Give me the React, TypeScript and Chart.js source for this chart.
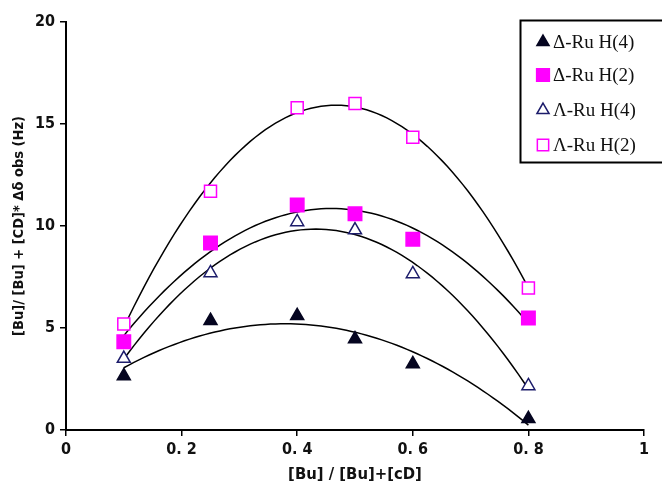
import { useEffect, useRef } from 'react';
import { Chart, registerables } from 'chart.js';
import { drawPoint } from 'chart.js/helpers';

Chart.register(...registerables);

// Mole-fraction values and measured shifts for each series
const ratios = [0.1, 0.25, 0.4, 0.5, 0.6, 0.8];
const deltaH4 = [2.65, 5.36, 5.6, 4.46, 3.24, 0.55];
const deltaH2 = [4.33, 9.17, 11.03, 10.6, 9.35, 5.49];
const lambdaH4 = [3.5, 7.7, 10.2, 9.8, 7.65, 2.16];
const lambdaH2 = [5.2, 11.7, 15.8, 16.0, 14.35, 6.96];

const seriesLabels = ['Δ-Ru H(4)', 'Δ-Ru H(2)', 'Λ-Ru H(4)', 'Λ-Ru H(2)'];
const xTickLabels = ['0', '0. 2', '0. 4', '0. 6', '0. 8', '1'];
const yTickLabels = ['0', '5', '10', '15', '20'];

const xTitle = '[Bu] / [Bu]+[cD]';
const yTitle = '[Bu]/ [Bu] + [CD]* Δδ obs (Hz)';

const NAVY = '#1c1c6b';
const MAGENTA = '#ff00ff';

type Style = { pointStyle: string; fill: string; stroke: string; radius: number };
const styles: Style[] = [
  { pointStyle: 'triangle', fill: '#050520', stroke: '#050520', radius: 7.5 },
  { pointStyle: 'rect', fill: MAGENTA, stroke: MAGENTA, radius: 9.5 },
  { pointStyle: 'triangle', fill: '#ffffff', stroke: NAVY, radius: 7.5 },
  { pointStyle: 'rect', fill: '#ffffff', stroke: MAGENTA, radius: 8.5 },
];

// Second-order least-squares trendline through a series
function quadFit(xs: number[], ys: number[]) {
  const s = [0, 0, 0, 0, 0];
  const t = [0, 0, 0];
  xs.forEach((x, i) => {
    for (let k = 0; k < 5; k++) s[k] += Math.pow(x, k);
    for (let k = 0; k < 3; k++) t[k] += Math.pow(x, k) * ys[i];
  });
  const m = [
    [s[0], s[1], s[2], t[0]],
    [s[1], s[2], s[3], t[1]],
    [s[2], s[3], s[4], t[2]],
  ];
  for (let c = 0; c < 3; c++) {
    for (let r = c + 1; r < 3; r++) {
      const f = m[r][c] / m[c][c];
      for (let k = c; k < 4; k++) m[r][k] -= f * m[c][k];
    }
  }
  const b = [0, 0, 0];
  for (let r = 2; r >= 0; r--) {
    let v = m[r][3];
    for (let k = r + 1; k < 3; k++) v -= m[r][k] * b[k];
    b[r] = v / m[r][r];
  }
  return (x: number) => b[0] + b[1] * x + b[2] * x * x;
}

function trend(ys: number[]) {
  const f = quadFit(ratios, ys);
  const lo = ratios[0];
  const hi = ratios[ratios.length - 1];
  const n = 80;
  const pts = [];
  for (let i = 0; i <= n; i++) {
    const x = lo + ((hi - lo) * i) / n;
    pts.push({ x, y: f(x) });
  }
  return pts;
}

const seriesValues = [deltaH4, deltaH2, lambdaH4, lambdaH2];

const boxLegend = {
  id: 'boxLegend',
  afterDraw(chart: any) {
    const ctx: CanvasRenderingContext2D = chart.ctx;
    const left = 520;
    const top = 20;
    ctx.save();
    ctx.fillStyle = '#ffffff';
    ctx.fillRect(left, top, 160, 143);
    ctx.strokeStyle = '#000000';
    ctx.lineWidth = 2;
    ctx.strokeRect(left + 0.5, top + 0.5, 170, 142);
    const rows = [42, 75, 110, 145];
    seriesLabels.forEach((label, i) => {
      const st = styles[i];
      ctx.fillStyle = st.fill;
      ctx.strokeStyle = st.stroke;
      ctx.lineWidth = 1.5;
      drawPoint(ctx, { pointStyle: st.pointStyle as any, rotation: 0, radius: st.radius - 0.5, borderWidth: 1.5 }, 543, rows[i]);
      ctx.fillStyle = '#111111';
      ctx.font = '19px "Liberation Serif", serif';
      ctx.textBaseline = 'middle';
      ctx.textAlign = 'left';
      ctx.fillText(label, 553, rows[i] + 1);
    });
    ctx.restore();
  },
};

export default function App() {
  const ref = useRef<HTMLCanvasElement | null>(null);

  useEffect(() => {
    document.body.style.margin = '0';
    const canvas = ref.current;
    if (!canvas) return;

    const lineSets = seriesValues.map((ys) => ({
      type: 'line' as const,
      data: trend(ys),
      borderColor: '#000000',
      borderWidth: 1.5,
      pointRadius: 0,
      fill: false,
      tension: 0,
      order: 2,
    }));

    const pointSets = seriesValues.map((ys, i) => ({
      type: 'scatter' as const,
      label: seriesLabels[i],
      data: ratios.map((x, j) => ({ x, y: ys[j] })),
      pointStyle: styles[i].pointStyle,
      pointRadius: styles[i].radius,
      pointBackgroundColor: styles[i].fill,
      pointBorderColor: styles[i].stroke,
      pointBorderWidth: 1.5,
      order: 1,
    }));

    const family = '"DejaVu Sans Condensed", "DejaVu Sans", sans-serif';
    const tickFont = { family, size: 16, weight: 'bold' as const };

    const chart = new Chart(canvas, {
      type: 'scatter',
      data: { datasets: [...lineSets, ...pointSets] as any },
      plugins: [boxLegend],
      options: {
        animation: false,
        responsive: false,
        devicePixelRatio: 1,
        layout: { padding: { top: 22, right: 18, left: 0, bottom: 0 } },
        plugins: { legend: { display: false }, tooltip: { enabled: false } },
        scales: {
          x: {
            type: 'linear',
            min: 0,
            max: 1,
            afterFit: (s: any) => {
              s.height = 57;
            },
            afterBuildTicks: (s: any) => {
              s.ticks = xTickLabels.map((_, i) => ({ value: i * 0.2 }));
            },
            ticks: {
              callback: (_v: any, i: number) => xTickLabels[i],
              font: tickFont,
              color: '#111111',
              padding: 4,
              maxRotation: 0,
            },
            grid: { drawOnChartArea: false, drawTicks: true, tickLength: 6, color: '#000000', lineWidth: 1.5 },
            border: { display: true, color: '#000000', width: 2 },
            title: { display: true, text: xTitle, font: { family, size: 16.5, weight: 'bold' }, color: '#111111', padding: { top: 0, bottom: 2 } },
          },
          y: {
            type: 'linear',
            min: 0,
            max: 20,
            afterFit: (s: any) => {
              s.width = 66;
            },
            afterBuildTicks: (s: any) => {
              s.ticks = yTickLabels.map((_, i) => ({ value: i * 5 }));
            },
            ticks: {
              callback: (_v: any, i: number) => yTickLabels[i],
              font: tickFont,
              color: '#111111',
              padding: 5,
            },
            grid: { drawOnChartArea: false, drawTicks: true, tickLength: 6, color: '#000000', lineWidth: 1.5 },
            border: { display: true, color: '#000000', width: 2 },
            title: { display: true, text: yTitle, font: { family, size: 14.5, weight: 'bold' }, color: '#111111', padding: { top: 11, bottom: 0 } },
          },
        },
      },
    });

    return () => chart.destroy();
  }, []);

  return <canvas ref={ref} width={662} height={487} style={{ display: 'block', width: 662, height: 487 }} />;
}
